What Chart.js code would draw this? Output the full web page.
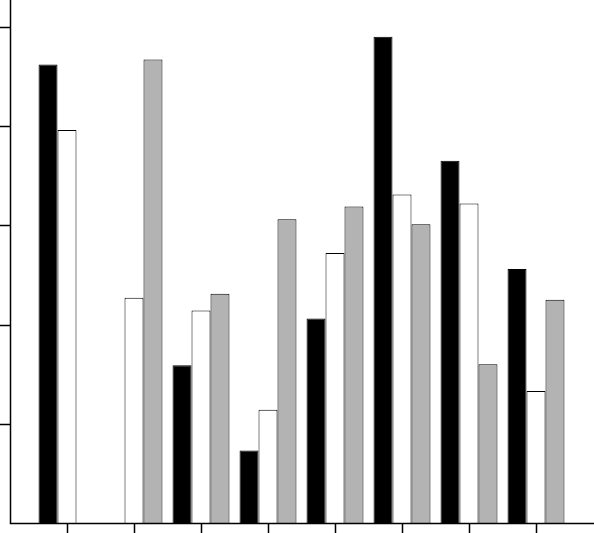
<!DOCTYPE html>
<html>
<head>
<meta charset="utf-8">
<script src="https://cdn.jsdelivr.net/npm/chart.js@4"></script>
<style>
  html, body { margin: 0; padding: 0; background: #fff; }
  #wrap { width: 594px; height: 533px; }
</style>
</head>
<body>
<div id="wrap"><canvas id="chart"></canvas></div>
<script>
// Chart data
const categories = ['1', '2', '3', '4', '5', '6', '7', '8'];
const blackValues = [4.62, 0, 1.59, 0.73, 2.06, 4.90, 3.65, 2.56];
const whiteValues = [3.96, 2.27, 2.14, 1.14, 2.72, 3.31, 3.22, 1.33];
const grayValues = [0, 4.67, 2.31, 3.06, 3.19, 3.01, 1.60, 2.25];
const yTicks = [1, 2, 3, 4, 5];

// Draw axis lines and tick marks the way the original plot does
const axesPlugin = {
  id: 'axesPlugin',
  afterDraw(chart) {
    const ctx = chart.ctx;
    const x = chart.scales.x;
    const y = chart.scales.y;
    const axisX = 10.5;
    const axisY = Math.round(y.getPixelForValue(0)) + 0.5;
    ctx.save();
    ctx.strokeStyle = '#000';
    ctx.lineWidth = 1.5;
    ctx.beginPath();
    ctx.moveTo(axisX, 0);
    ctx.lineTo(axisX, axisY);
    ctx.lineTo(chart.width, axisY);
    yTicks.forEach(function (v) {
      const py = Math.round(y.getPixelForValue(v)) + 0.5;
      ctx.moveTo(axisX, py);
      ctx.lineTo(0, py);
    });
    categories.forEach(function (c, i) {
      const px = Math.round(x.getPixelForValue(i)) + 0.5;
      ctx.moveTo(px, axisY);
      ctx.lineTo(px, axisY + 10);
    });
    ctx.stroke();
    ctx.restore();
  }
};

const ctx = document.getElementById('chart').getContext('2d');
new Chart(ctx, {
  type: 'bar',
  data: {
    labels: categories,
    datasets: [{
      data: blackValues,
      backgroundColor: '#000',
      borderColor: '#000',
      borderWidth: 1
    }, {
      data: whiteValues,
      backgroundColor: '#fff',
      borderColor: '#000',
      borderWidth: 1
    }, {
      data: grayValues,
      backgroundColor: '#b3b3b3',
      borderColor: '#000',
      borderWidth: 1
    }]
  },
  options: {
    responsive: true,
    maintainAspectRatio: false,
    animation: false,
    layout: { padding: { left: 33.5, right: 24.5, top: 0, bottom: 10 } },
    datasets: { bar: { categoryPercentage: 0.85, barPercentage: 1 } },
    plugins: { legend: { display: false }, tooltip: { enabled: false } },
    scales: {
      x: { display: false },
      y: { display: false, min: 0, max: 5.27 }
    }
  },
  plugins: [axesPlugin]
});
</script>
</body>
</html>
